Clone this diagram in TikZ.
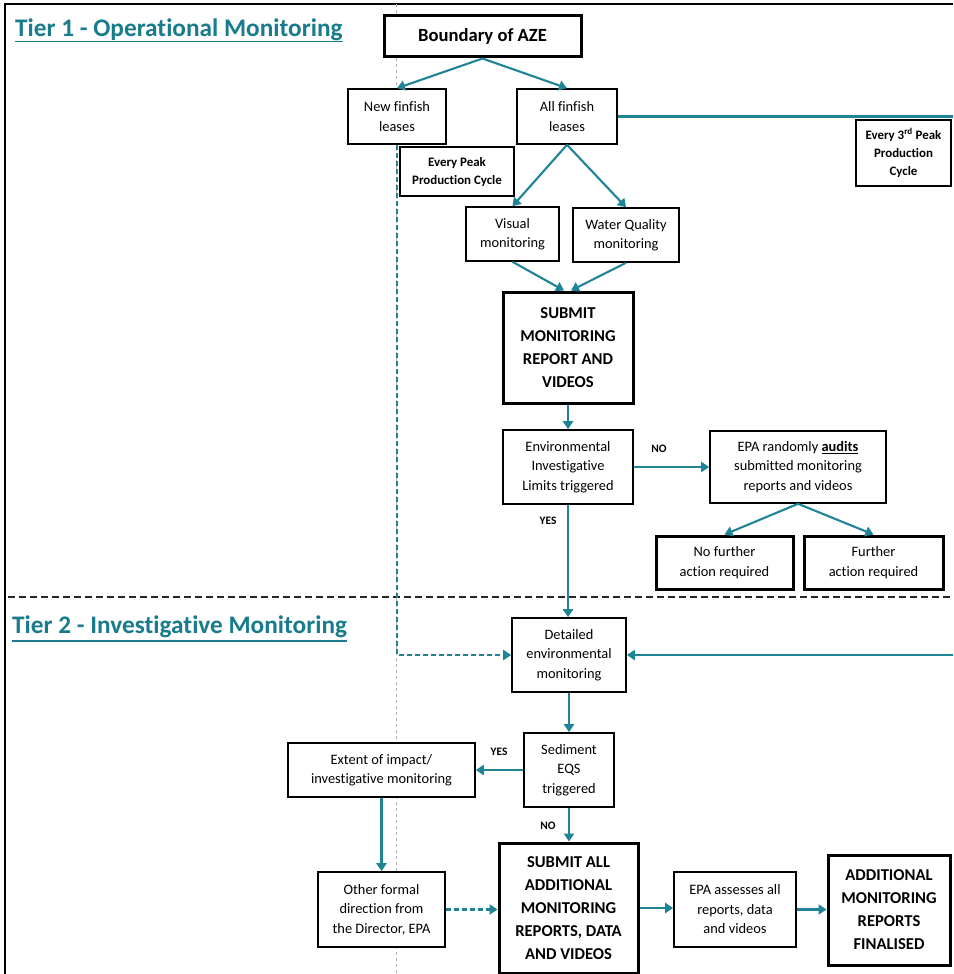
\documentclass[tikz,border=0pt]{standalone}
\usepackage{fontspec}
\setmainfont{Carlito}[Ligatures={NoCommon}]
\usetikzlibrary{arrows.meta}
\definecolor{flow}{RGB}{30,132,150}
\definecolor{tiertxt}{RGB}{24,124,140}

\begin{document}
\begin{tikzpicture}[x=1pt,y=-1pt,
  box/.style={draw=black, line width=1.6pt, fill=white, align=center, inner sep=2pt,
    font=\fontsize{14.4}{19.5}\selectfont},
  heavybox/.style={box, line width=3pt, font=\bfseries\fontsize{16.6}{23}\selectfont},
  notebox/.style={box, font=\bfseries\fontsize{12.9}{18}\selectfont},
  flowline/.style={draw=flow, line width=2.1pt, -{Triangle[length=8pt,width=10pt]}},
  flowdash/.style={flowline, dash pattern=on 5pt off 3pt},
  lbl/.style={font=\bfseries\fontsize{11.4}{13}\selectfont, inner sep=0pt},
  tier/.style={font=\bfseries\fontsize{25.3}{30}\selectfont, text=tiertxt, inner sep=0pt, anchor=base west},
  guide/.style={draw=gray!60, line width=0.8pt, dash pattern=on 3pt off 3pt},
  tierrule/.style={draw=black!85, line width=1.5pt, dash pattern=on 7pt off 4pt}
]
\useasboundingbox (0,0) rectangle (953,974);
\clip (0,0) rectangle (953,974);
\fill[white] (0,0) rectangle (953,974);

% page frame and tier separator
\draw[line width=2.5pt] (5,974) -- (5,4) -- (953,4);
\draw[guide] (396,4) -- (396,974);
\draw[tierrule] (8,597) -- (953,597);

% tier headings
\node[tier] (t1) at (15,37) {Tier 1 - Operational Monitoring};
\draw[tiertxt, line width=1.6pt] ([yshift=-4.5pt]t1.base west) -- ([yshift=-4.5pt]t1.base east);
\node[tier] (t2) at (12,633) {Tier 2 - Investigative Monitoring};
\draw[tiertxt, line width=1.6pt] ([yshift=-8pt]t2.base west) -- ([yshift=-8pt]t2.base east);

% tier 1 boxes
\node[box, line width=3pt, font=\bfseries\fontsize{18.6}{22}\selectfont,
  minimum width=197pt, minimum height=41pt] (aze) at (482.5,36.5) {Boundary of AZE};
\node[box, minimum width=98pt, minimum height=55pt] (newf) at (397,116.5) {New finfish\\leases};
\node[box, minimum width=100pt, minimum height=55pt] (allf) at (567,116.5) {All finfish\\leases};
\node[notebox, minimum width=114pt, minimum height=49pt] (peak) at (457,171.5) {Every Peak\\Production Cycle};
\node[notebox, minimum width=95pt, minimum height=66pt] (peak3) at (903.5,153) {Every 3\textsuperscript{rd} Peak\\Production\\Cycle};
\node[box, minimum width=93pt, minimum height=54pt] (visual) at (512.5,234) {Visual\\monitoring};
\node[box, minimum width=106pt, minimum height=54pt] (water) at (626,235) {Water Quality\\monitoring};
\node[heavybox, minimum width=130pt, minimum height=111pt] (submit) at (568,347.5) {SUBMIT\\MONITORING\\REPORT AND\\VIDEOS};
\node[box, minimum width=130pt, minimum height=74pt] (envlim) at (568,467) {Environmental\\Investigative\\Limits triggered};
\node[box, minimum width=176pt, minimum height=72pt] (audit) at (798,467) {EPA randomly \textbf{\underline{audits}}\\submitted monitoring\\reports and videos};
\node[box, line width=3pt, minimum width=137pt, minimum height=53pt] (nofur) at (724.5,562.5) {No further\\action required};
\node[box, line width=3pt, minimum width=139pt, minimum height=53pt] (fur) at (873.5,562.5) {Further\\action required};

% tier 2 boxes
\node[box, minimum width=114pt, minimum height=74pt] (detail) at (569,655) {Detailed\\environmental\\monitoring};
\node[box, minimum width=90pt, minimum height=74pt] (sed) at (569,770) {Sediment\\EQS\\triggered};
\node[box, minimum width=187pt, minimum height=54pt] (extent) at (381.5,770) {Extent of impact/\\investigative monitoring};
\node[box, minimum width=127pt, minimum height=75pt] (other) at (381.5,909.5) {Other formal\\direction from\\the Director, EPA};
\node[heavybox, minimum width=139pt, minimum height=130pt] (suball) at (568.5,908) {SUBMIT ALL\\ADDITIONAL\\MONITORING\\REPORTS, DATA\\AND VIDEOS};
\node[box, minimum width=122pt, minimum height=75pt] (assess) at (735,909.5) {EPA assesses all\\reports, data\\and videos};
\node[heavybox, minimum width=122pt, minimum height=110pt] (final) at (889,910) {ADDITIONAL\\MONITORING\\REPORTS\\FINALISED};

% branch labels
\node[lbl] (no1) at (659,449) {NO};
\node[lbl] (yes1) at (548,521) {YES};
\node[lbl] (yes2) at (499,752) {YES};
\node[lbl] (no2) at (548,826) {NO};

% routing points beyond the right edge
\coordinate (rt) at (962,116.5);
\coordinate (rb) at (962,655);

% connectors
\draw[flowline] (aze.south) -- (newf.north);
\draw[flowline] (aze.south) -- (allf.north);
\draw[flowline] (allf.south) -- (visual.north);
\draw[flowline] (allf.south) -- (water.north);
\draw[flowline] (visual.south) -- ([xshift=-4pt]submit.north);
\draw[flowline] (water.south) -- ([xshift=3pt]submit.north);
\draw[flowline] (submit.south) -- (envlim.north);
\draw[flowline] (envlim.east) -- (audit.west);
\draw[flowline] (audit.south) -- (nofur.north);
\draw[flowline] (audit.south) -- (fur.north);
\draw[flowline] (envlim.south) -- (envlim.south |- detail.north);
\draw[flowline] (allf.east) -- (rt) -- (rb) -- (detail.east);
\draw[flowdash] (newf.south) |- (detail.west);
\draw[flowline] (detail.south) -- (sed.north);
\draw[flowline] (sed.west) -- (extent.east);
\draw[flowline] (extent.south) -- (other.north);
\draw[flowline] (sed.south) -- (sed.south |- suball.north);
\draw[flowdash] (other.east) -- (other.east -| suball.west);
\draw[flowline] (suball.east) -- (suball.east -| assess.west);
\draw[flowline] (assess.east) -- (assess.east -| final.west);
\end{tikzpicture}
\end{document}
